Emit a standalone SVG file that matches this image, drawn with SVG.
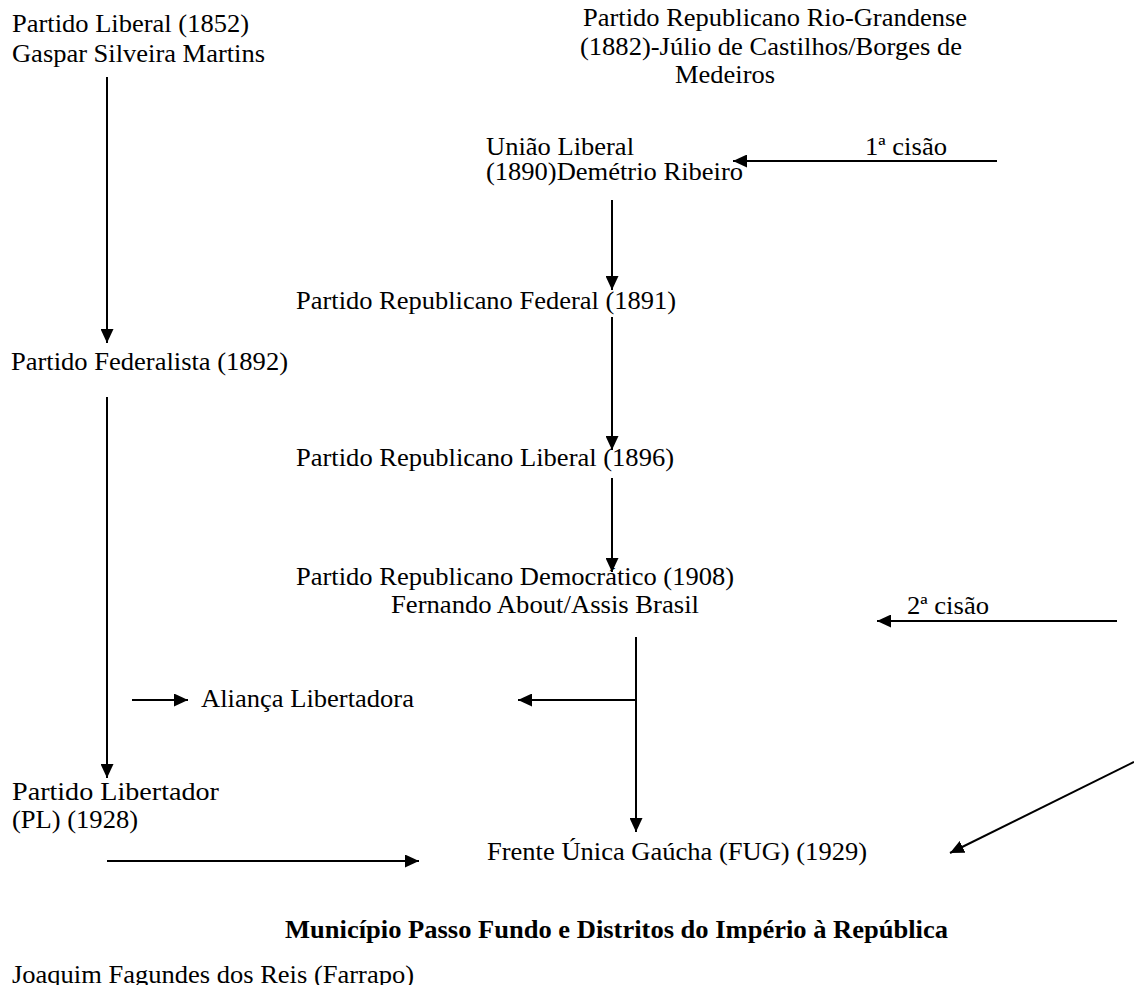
<svg xmlns="http://www.w3.org/2000/svg" width="1134" height="985" viewBox="0 0 1134 985">
<style>
text{font-family:"Liberation Serif","Times New Roman","DejaVu Serif",serif;font-size:25px;fill:#000}
.t{font-weight:bold}
.c line{stroke:#000;stroke-width:2;fill:none}
.a{marker-end:url(#ah)}
</style>
<defs>
<marker id="ah" viewBox="0 0 14 13" refX="14" refY="6.5" markerWidth="14" markerHeight="13" markerUnits="userSpaceOnUse" orient="auto">
<path d="M0,0 L14,6.5 L0,13 z" fill="#000"/>
</marker>
</defs>
<rect width="1134" height="985" fill="#fff"/>
<g class="c">
<line class="a" x1="107" y1="77" x2="107" y2="343"/>
<line class="a" x1="107" y1="397" x2="107" y2="778"/>
<line class="a" x1="107" y1="861" x2="419" y2="861"/>
<line class="a" x1="132" y1="700" x2="188" y2="700"/>
<line class="a" x1="612" y1="200" x2="612" y2="290"/>
<line class="a" x1="612" y1="317" x2="612" y2="450"/>
<line class="a" x1="612" y1="478" x2="612" y2="572"/>
<line class="a" x1="636" y1="637" x2="636" y2="832"/>
<line class="a" x1="636" y1="700" x2="518" y2="700"/>
<line class="a" x1="997" y1="161" x2="733" y2="161"/>
<line class="a" x1="1117" y1="621" x2="877" y2="621"/>
<line class="a" x1="1134" y1="762" x2="950" y2="853"/>
</g>
<g id="n-liberal"><text x="12" y="32" textLength="237" lengthAdjust="spacingAndGlyphs">Partido Liberal (1852)</text><text x="12" y="62" textLength="253" lengthAdjust="spacingAndGlyphs">Gaspar Silveira Martins</text></g>
<g id="n-prr"><text x="583" y="26" textLength="384" lengthAdjust="spacingAndGlyphs">Partido Republicano Rio-Grandense</text><text x="580" y="55" textLength="382" lengthAdjust="spacingAndGlyphs">(1882)-Júlio de Castilhos/Borges de</text><text x="675" y="83" textLength="100" lengthAdjust="spacingAndGlyphs">Medeiros</text></g>
<g id="n-uniao"><text x="486" y="155" textLength="148" lengthAdjust="spacingAndGlyphs">União Liberal</text><text x="486" y="180" textLength="257" lengthAdjust="spacingAndGlyphs">(1890)Demétrio Ribeiro</text></g>
<g id="l-cisao1"><text x="865" y="155" textLength="82" lengthAdjust="spacingAndGlyphs">1ª cisão</text></g>
<g id="n-prf"><text x="296" y="309" textLength="380" lengthAdjust="spacingAndGlyphs">Partido Republicano Federal (1891)</text></g>
<g id="n-federalista"><text x="11" y="370" textLength="277" lengthAdjust="spacingAndGlyphs">Partido Federalista (1892)</text></g>
<g id="n-prl"><text x="296" y="466" textLength="378" lengthAdjust="spacingAndGlyphs">Partido Republicano Liberal (1896)</text></g>
<g id="n-prd"><text x="296" y="585" textLength="438" lengthAdjust="spacingAndGlyphs">Partido Republicano Democrático (1908)</text><text x="391" y="613" textLength="308" lengthAdjust="spacingAndGlyphs">Fernando About/Assis Brasil</text></g>
<g id="l-cisao2"><text x="907" y="614" textLength="82" lengthAdjust="spacingAndGlyphs">2ª cisão</text></g>
<g id="n-alianca"><text x="201" y="707" textLength="213" lengthAdjust="spacingAndGlyphs">Aliança Libertadora</text></g>
<g id="n-pl"><text x="12" y="800" textLength="207" lengthAdjust="spacingAndGlyphs">Partido Libertador</text><text x="12" y="828" textLength="126" lengthAdjust="spacingAndGlyphs">(PL) (1928)</text></g>
<g id="n-fug"><text x="487" y="860" textLength="380" lengthAdjust="spacingAndGlyphs">Frente Única Gaúcha (FUG) (1929)</text></g>
<g id="title"><text class="t" x="285" y="938" textLength="663" lengthAdjust="spacingAndGlyphs">Município Passo Fundo e Distritos do Império à República</text></g>
<g id="n-joaquim"><text x="12" y="983" textLength="402" lengthAdjust="spacingAndGlyphs">Joaquim Fagundes dos Reis (Farrapo)</text></g>
</svg>
